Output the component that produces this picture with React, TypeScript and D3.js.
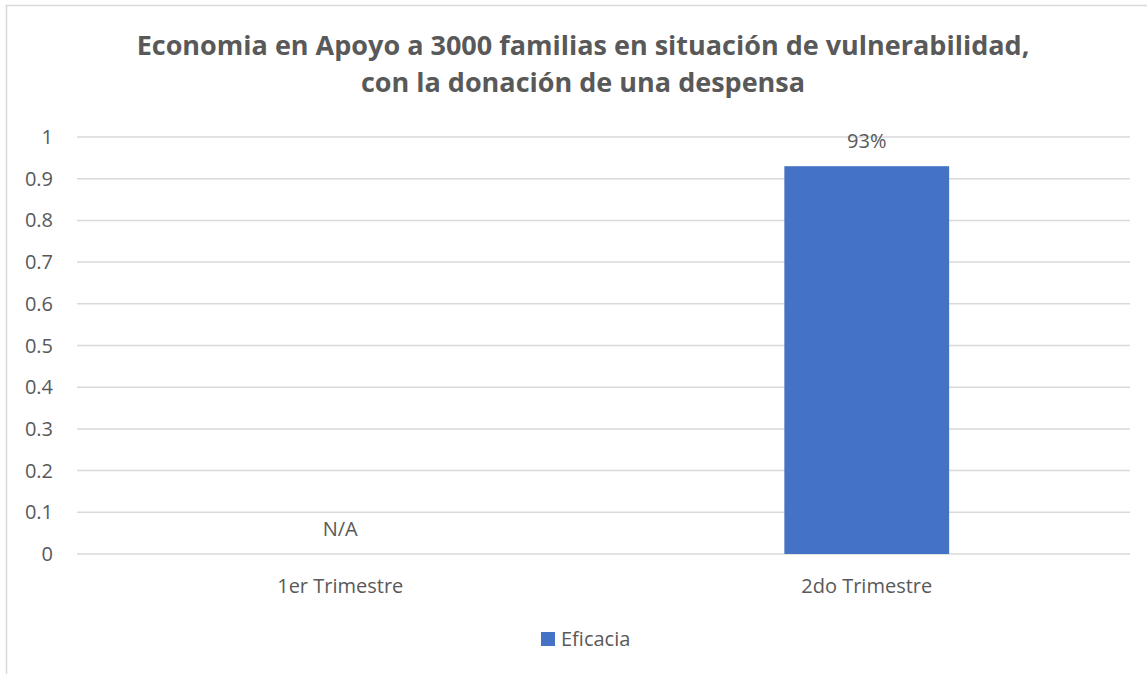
import { useEffect } from 'react';
import * as d3 from 'd3';

const WIDTH = 1147;
const HEIGHT = 674;
const MARGIN = { top: 137, right: 17, bottom: 120, left: 77 };

const titleLines = [
  'Economia en Apoyo a 3000 familias en situación de vulnerabilidad,',
  'con la donación de una despensa',
];
const categories = ['1er Trimestre', '2do Trimestre'];
const values: (number | null)[] = [null, 0.93];
const valueLabels = ['N/A', '93%'];
const yTicks = [0, 0.1, 0.2, 0.3, 0.4, 0.5, 0.6, 0.7, 0.8, 0.9, 1];
const seriesName = 'Eficacia';

const BAR_COLOR = '#4472c4';
const TEXT_COLOR = '#595959';
const GRID_COLOR = '#d9d9d9';
const FONT = '"Open Sans", sans-serif';
const LABEL_SIZE = 20;

const App = () => {
  useEffect(() => {
    document.body.style.margin = '0';
  }, []);

  const boundsWidth = WIDTH - MARGIN.left - MARGIN.right;
  const boundsHeight = HEIGHT - MARGIN.top - MARGIN.bottom;

  const xScale = d3
    .scaleBand<string>()
    .domain(categories)
    .range([0, boundsWidth])
    .paddingInner(0.687)
    .paddingOuter(0.3435);

  const yScale = d3.scaleLinear().domain([0, 1]).range([boundsHeight, 0]);

  const bandCenter = (c: string) => (xScale(c) ?? 0) + xScale.bandwidth() / 2;

  return (
    <svg width={WIDTH} height={HEIGHT} style={{ display: 'block' }}>
      <rect x={0} y={0} width={WIDTH} height={HEIGHT} fill="#fff" />
      <rect
        x={6.5}
        y={5.5}
        width={WIDTH + 10}
        height={HEIGHT + 10}
        fill="none"
        stroke={GRID_COLOR}
        strokeWidth={1.5}
      />

      {titleLines.map((line, i) => (
        <text
          key={i}
          x={583}
          y={55 + i * 36.5}
          textAnchor="middle"
          fontFamily={FONT}
          fontWeight="bold"
          fontSize={27}
          fill={TEXT_COLOR}
        >
          {line}
        </text>
      ))}

      <g transform={`translate(${MARGIN.left},${MARGIN.top})`}>
        {yTicks.map((t) => (
          <g key={t}>
            <line
              x1={0}
              x2={boundsWidth}
              y1={yScale(t)}
              y2={yScale(t)}
              stroke={GRID_COLOR}
              strokeWidth={1.5}
            />
            <text
              x={-24}
              y={yScale(t)}
              dy="0.35em"
              textAnchor="end"
              fontFamily={FONT}
              fontSize={LABEL_SIZE}
              fill={TEXT_COLOR}
            >
              {String(t)}
            </text>
          </g>
        ))}

        {categories.map((c, i) => {
          const v = values[i];
          const barTop = yScale(v ?? 0);
          return (
            <g key={c}>
              {v !== null && (
                <rect
                  x={xScale(c)}
                  y={barTop}
                  width={xScale.bandwidth()}
                  height={boundsHeight - barTop}
                  fill={BAR_COLOR}
                />
              )}
              <text
                x={bandCenter(c)}
                y={barTop - 18}
                textAnchor="middle"
                fontFamily={FONT}
                fontSize={LABEL_SIZE}
                fill={TEXT_COLOR}
              >
                {valueLabels[i]}
              </text>
              <text
                x={bandCenter(c)}
                y={boundsHeight + 39}
                textAnchor="middle"
                fontFamily={FONT}
                fontSize={LABEL_SIZE}
                fill={TEXT_COLOR}
              >
                {c}
              </text>
            </g>
          );
        })}
      </g>

      <g transform="translate(541,632)">
        <rect x={0} y={0} width={14} height={14} fill={BAR_COLOR} />
        <text x={20} y={14} fontFamily={FONT} fontSize={LABEL_SIZE} fill={TEXT_COLOR}>
          {seriesName}
        </text>
      </g>
    </svg>
  );
};

export default App;
